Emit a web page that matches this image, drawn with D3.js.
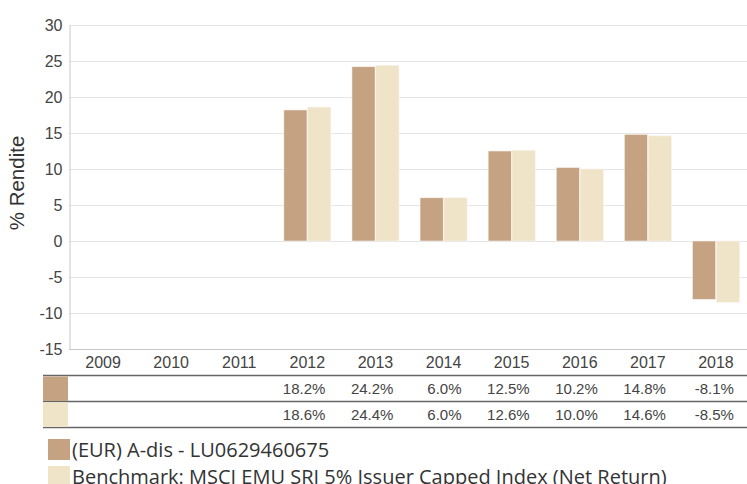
<!DOCTYPE html>
<html>
<head>
<meta charset="utf-8">
<script src="https://cdn.jsdelivr.net/npm/d3@7"></script>
<style>
  body { margin: 0; background: #fff; }
  svg { display: block; }
</style>
</head>
<body>
<div id="chart"></div>
<script>
const years = ["2009", "2010", "2011", "2012", "2013", "2014", "2015", "2016", "2017", "2018"];
const fundValues = [null, null, null, 18.2, 24.2, 6.0, 12.5, 10.2, 14.8, -8.1];
const benchValues = [null, null, null, 18.6, 24.4, 6.0, 12.6, 10.0, 14.6, -8.5];
const seriesNames = ["(EUR) A-dis - LU0629460675", "Benchmark: MSCI EMU SRI 5% Issuer Capped Index (Net Return)"];
const seriesColors = ["#c4a282", "#efe3c8"];
const yTicks = [-15, -10, -5, 0, 5, 10, 15, 20, 25, 30];

const width = 747, height = 484;
const margin = { top: 25, right: 0, bottom: 135, left: 69 };

const svg = d3.select("#chart").append("svg")
  .attr("width", width)
  .attr("height", height);

const series = [fundValues, benchValues];

// Scales
const x = d3.scaleBand()
  .domain(years)
  .range([margin.left, width + 3])
  .paddingInner(0.31)
  .paddingOuter(0.155);

const x1 = d3.scaleBand()
  .domain([0, 1])
  .range([0, x.bandwidth()])
  .paddingInner(0.03);

const y = d3.scaleLinear()
  .domain([-15, 30])
  .range([height - margin.bottom, margin.top]);

// Grid
svg.append("g")
  .selectAll("line")
  .data(yTicks.filter(d => d > -15))
  .join("line")
  .attr("x1", margin.left)
  .attr("x2", width)
  .attr("y1", d => y(d) + 0.5)
  .attr("y2", d => y(d) + 0.5)
  .attr("stroke", "#e6e6e6");

// Y axis
const yAxis = g => g
  .attr("transform", `translate(${margin.left + 0.5},0)`)
  .call(d3.axisLeft(y).tickValues(yTicks).tickFormat(d => String(d)).tickSize(0).tickPadding(7))
  .call(g => g.select(".domain").attr("stroke", "#c8c8c8"))
  .call(g => g.selectAll("text")
    .attr("font-family", "Liberation Sans, Arial, sans-serif")
    .attr("font-size", 16)
    .attr("fill", "#444"));

svg.append("g").call(yAxis);

// Bottom axis line
svg.append("line")
  .attr("x1", margin.left)
  .attr("x2", width)
  .attr("y1", y(-15) + 0.5)
  .attr("y2", y(-15) + 0.5)
  .attr("stroke", "#c8c8c8");

svg.append("text")
  .attr("transform", `translate(24,183) rotate(-90)`)
  .attr("text-anchor", "middle")
  .attr("font-family", "Liberation Sans, Arial, sans-serif")
  .attr("font-size", 20.5)
  .attr("fill", "#333")
  .text("% Rendite");

// Bars
svg.append("g")
  .selectAll("g")
  .data(series)
  .join("g")
  .attr("fill", (d, i) => seriesColors[i])
  .selectAll("rect")
  .data((vals, si) => vals.map((v, i) => ({ v, year: years[i], si })).filter(d => d.v !== null))
  .join("rect")
  .attr("x", d => x(d.year) + x1(d.si))
  .attr("width", x1.bandwidth())
  .attr("y", d => y(Math.max(0, d.v)))
  .attr("height", d => Math.abs(y(d.v) - y(0)))
  .attr("stroke", "#f7f1ea")
  .attr("stroke-width", 0.6);

// Year labels
svg.append("g")
  .attr("transform", `translate(0,${y(-15)})`)
  .call(d3.axisBottom(x).tickSize(0).tickPadding(8))
  .call(g => g.select(".domain").remove())
  .call(g => g.selectAll("text")
    .attr("font-family", "Liberation Sans, Arial, sans-serif")
    .attr("font-size", 16)
    .attr("fill", "#444"));

// Data table
const tableLeft = 43;
const rowTop = [376, 402];
const rowH = 25;

svg.append("g")
  .selectAll("line")
  .data([375.5, 401.5, 427.5])
  .join("line")
  .attr("x1", tableLeft)
  .attr("x2", width)
  .attr("y1", d => d)
  .attr("y2", d => d)
  .attr("stroke", "#666")
  .attr("stroke-width", 1.5);

svg.append("g")
  .selectAll("rect")
  .data(series)
  .join("rect")
  .attr("x", tableLeft)
  .attr("y", (d, i) => rowTop[i] + 0.5)
  .attr("width", 25)
  .attr("height", rowH - 0.5)
  .attr("fill", (d, i) => seriesColors[i]);

series.forEach((vals, si) => {
  svg.append("g")
    .selectAll("text")
    .data(vals.map((v, i) => ({ v, year: years[i] })).filter(d => d.v !== null))
    .join("text")
    .attr("x", d => x(d.year) + x.bandwidth() / 2 + 18)
    .attr("y", rowTop[si] + 18)
    .attr("text-anchor", "end")
    .attr("font-family", "Liberation Sans, Arial, sans-serif")
    .attr("font-size", 15)
    .attr("fill", "#444")
    .text(d => d.v.toFixed(1) + "%");
});

// Legend
const legend = svg.append("g")
  .selectAll("g")
  .data(seriesNames)
  .join("g")
  .attr("transform", (d, i) => `translate(48,${439 + i * 27})`);

legend.append("rect")
  .attr("width", 22)
  .attr("height", 21)
  .attr("fill", (d, i) => seriesColors[i]);

legend.append("text")
  .attr("x", 24)
  .attr("y", 17.5)
  .attr("font-family", "Open Sans, Noto Sans, sans-serif")
  .attr("font-size", 20)
  .attr("fill", "#333")
  .text(d => d);
</script>
</body>
</html>
